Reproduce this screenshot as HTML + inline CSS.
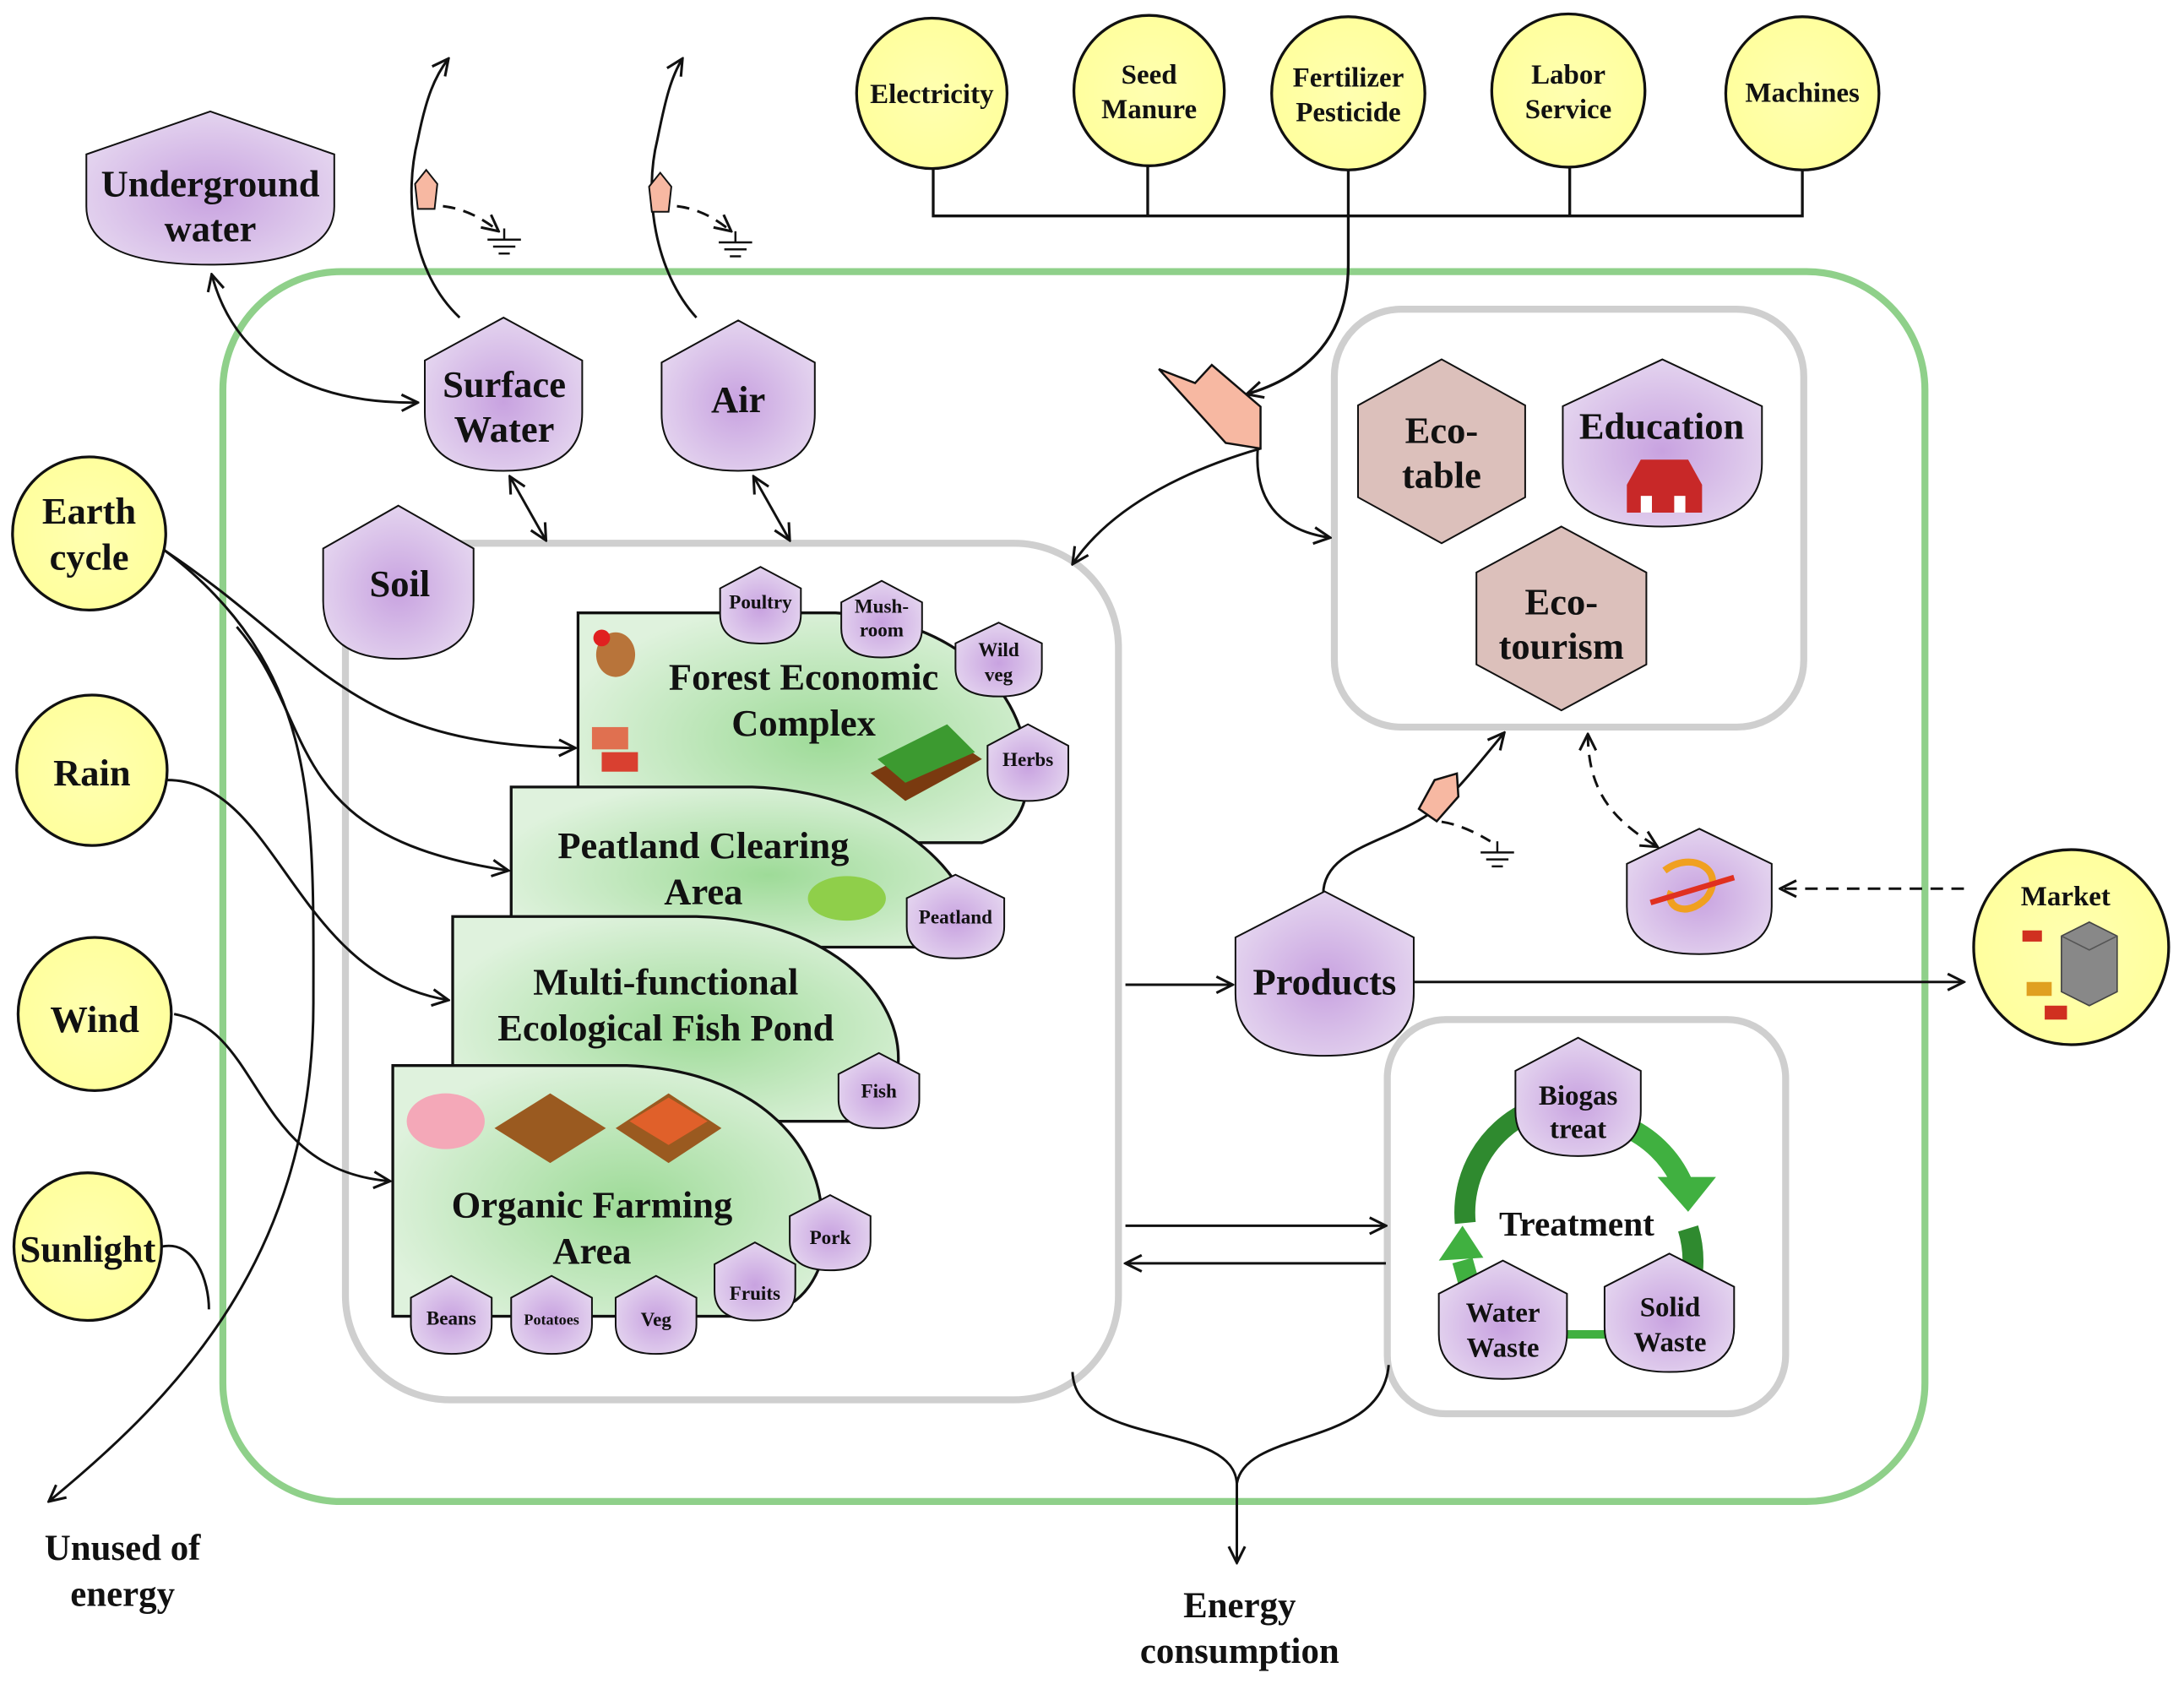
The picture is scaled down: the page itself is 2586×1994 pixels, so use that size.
<!DOCTYPE html>
<html><head><meta charset="utf-8"><style>
html,body{margin:0;padding:0;background:#fff;}
svg{display:block;}
text{font-family:"Liberation Serif",serif;font-weight:bold;fill:#111;text-anchor:middle;}
</style></head><body>
<svg width="2586" height="1994" viewBox="0 0 1568 1209" xmlns="http://www.w3.org/2000/svg">
<defs>
<radialGradient id="pg" cx="50%" cy="55%" r="60%"><stop offset="0" stop-color="#c8a2e0"/><stop offset="1" stop-color="#e6d8f0"/></radialGradient>
<radialGradient id="gg" cx="55%" cy="55%" r="60%"><stop offset="0" stop-color="#9edb98"/><stop offset="1" stop-color="#dff2dd"/></radialGradient>
<radialGradient id="yg" cx="50%" cy="50%" r="55%"><stop offset="0" stop-color="#ffffb0"/><stop offset="1" stop-color="#ffff9c"/></radialGradient>
<path id="pb" d="M50,0 L100,28 L100,62 Q100,100 50,100 Q0,100 0,62 L0,28 Z" fill="url(#pg)" stroke="#111" stroke-width="2" vector-effect="non-scaling-stroke"/>
<path id="hx" d="M50,0 L100,25 L100,75 L50,100 L0,75 L0,25 Z" fill="#dcc0bb" stroke="#111" stroke-width="2" vector-effect="non-scaling-stroke"/>
<marker id="ar" viewBox="0 0 12 12" refX="11" refY="6" markerWidth="14" markerHeight="14" markerUnits="userSpaceOnUse" orient="auto-start-reverse"><path d="M1,1 L11,6 L1,11" fill="none" stroke="#111" stroke-width="1.6"/></marker>
<g id="gnd"><line x1="0" y1="-8" x2="0" y2="0" stroke="#111" stroke-width="1.5"/><line x1="-12" y1="0" x2="12" y2="0" stroke="#111" stroke-width="1.5"/><line x1="-8" y1="5" x2="8" y2="5" stroke="#111" stroke-width="1.5"/><line x1="-4" y1="10" x2="4" y2="10" stroke="#111" stroke-width="1.5"/></g>
<path id="flag" d="M0,0 L8,-10 L16,0 L14,18 L2,18 Z" fill="#f7b8a2" stroke="#111" stroke-width="1.2"/>
</defs>

<rect x="160" y="195" width="1222" height="883" rx="85" fill="none" stroke="#8fd08a" stroke-width="5"/>
<rect x="248" y="390" width="555" height="615" rx="75" fill="none" stroke="#cfcfcf" stroke-width="5"/>
<rect x="958" y="222" width="337" height="300" rx="48" fill="none" stroke="#cfcfcf" stroke-width="5"/>
<rect x="996" y="732" width="286" height="283" rx="42" fill="none" stroke="#cfcfcf" stroke-width="5"/>

<g stroke="#111" stroke-width="2" fill="none">
<path d="M670,121 V155 H1294 V121 M824,119 V155 M1127,119 V155"/>
<path d="M968,122 V190 C968,240 940,270 895,283" marker-end="url(#ar)"/>
</g>

<g fill="url(#yg)" stroke="#111" stroke-width="2">
<circle cx="669" cy="67" r="54"/><circle cx="825" cy="65" r="54"/><circle cx="968" cy="67" r="55"/><circle cx="1126" cy="65" r="55"/><circle cx="1294" cy="67" r="55"/>
<circle cx="64" cy="383" r="55"/><circle cx="66" cy="553" r="54"/><circle cx="68" cy="728" r="55"/><circle cx="63" cy="895" r="53"/><circle cx="1487" cy="680" r="70"/>
</g>
<g font-size="20">
<text x="669" y="74">Electricity</text>
<text x="825" y="60">Seed</text><text x="825" y="85">Manure</text>
<text x="968" y="62">Fertilizer</text><text x="968" y="87">Pesticide</text>
<text x="1126" y="60">Labor</text><text x="1126" y="85">Service</text>
<text x="1294" y="73">Machines</text>
<text x="1483" y="650">Market</text>
</g>
<g font-size="27">
<text x="64" y="376">Earth</text><text x="64" y="409">cycle</text>
<text x="66" y="564">Rain</text>
<text x="68" y="741">Wind</text>
<text x="63" y="906">Sunlight</text>
</g>
<path d="M1480,672 L1500,662 L1520,672 L1520,712 L1500,722 L1480,712 Z" fill="#888" stroke="#444"/>
<path d="M1480,672 L1500,682 L1520,672" fill="none" stroke="#555"/>
<rect x="1455" y="705" width="18" height="10" fill="#e0a020"/><rect x="1468" y="722" width="16" height="10" fill="#d03020"/><rect x="1452" y="668" width="14" height="8" fill="#d03020"/>

<g stroke="#111" stroke-width="1.8" fill="none">
<path d="M118,395 C230,470 250,535 413,537" marker-end="url(#ar)"/>
<path d="M170,450 C230,520 200,600 365,625" marker-end="url(#ar)"/>
<path d="M120,560 C200,560 210,700 322,718" marker-end="url(#ar)"/>
<path d="M125,728 C190,740 180,840 280,848" marker-end="url(#ar)"/>
<path d="M118,395 C230,480 225,580 225,720 C225,900 130,1000 35,1078" marker-end="url(#ar)"/>
<path d="M116,895 C140,890 150,920 150,940"/>
</g>
<text x="88" y="1120" font-size="26">Unused of</text><text x="88" y="1153" font-size="26">energy</text>
<text x="890" y="1161" font-size="26">Energy</text><text x="890" y="1194" font-size="26">consumption</text>

<g stroke="#111" stroke-width="1.8" fill="none">
<path d="M152,197 C170,265 230,290 300,289" marker-start="url(#ar)" marker-end="url(#ar)"/>
<path d="M330,228 C295,195 290,140 300,100 C306,70 312,55 322,42" marker-end="url(#ar)"/>
<path d="M500,228 C470,195 462,140 472,100 C478,70 482,55 490,42" marker-end="url(#ar)"/>
<path d="M366,342 L392,388" marker-start="url(#ar)" marker-end="url(#ar)"/>
<path d="M541,342 L567,388" marker-start="url(#ar)" marker-end="url(#ar)"/>
<path d="M905,322 C860,335 800,360 770,405" marker-end="url(#ar)"/>
<path d="M903,322 C900,365 925,382 955,386" marker-end="url(#ar)"/>
<path d="M808,707 H885" marker-end="url(#ar)"/>
<path d="M1015,705 H1410" marker-end="url(#ar)"/>
<path d="M808,880 H995" marker-end="url(#ar)"/>
<path d="M995,907 H808" marker-end="url(#ar)"/>
<path d="M770,985 C772,1040 885,1020 888,1065 V1122" marker-end="url(#ar)"/>
<path d="M997,980 C992,1040 895,1025 888,1065"/>
<path d="M950,642 C950,610 995,605 1025,585 C1045,570 1060,550 1080,526" marker-end="url(#ar)"/>
</g>
<g stroke="#111" stroke-width="1.8" fill="none" stroke-dasharray="9,6">
<path d="M318,148 C335,150 348,158 358,166" marker-end="url(#ar)"/>
<path d="M486,148 C503,150 515,158 525,166" marker-end="url(#ar)"/>
<path d="M1035,590 C1048,592 1060,598 1070,604"/>
<path d="M1140,527 C1140,570 1160,590 1190,608" marker-start="url(#ar)" marker-end="url(#ar)"/>
<path d="M1410,638 H1278" marker-end="url(#ar)"/>
</g>
<use href="#gnd" x="362" y="172"/><use href="#gnd" x="528" y="174"/><use href="#gnd" x="1075" y="612"/>
<use href="#flag" transform="translate(298,132)"/>
<use href="#flag" transform="translate(466,134)"/>
<use href="#flag" transform="translate(1030,560) rotate(35) scale(1.3)"/>
<path d="M832,265 L858,275 L870,262 L905,292 L905,322 L880,318 Z" fill="#f7b8a2" stroke="#111" stroke-width="1.5"/>

<g stroke="#111" stroke-width="2" fill="url(#gg)">
<path d="M415,440 H600 C690,445 740,500 738,560 C736,590 720,600 705,605 L415,605 Z"/>
<path d="M367,565 H540 C630,568 700,620 702,680 L367,680 Z"/>
<path d="M325,658 H500 C590,660 645,710 645,760 C645,790 630,800 610,805 L325,805 Z"/>
<path d="M282,765 H450 C540,768 590,820 590,875 L590,905 C580,935 560,945 530,945 L282,945 Z"/>
</g>
<g font-size="27">
<text x="577" y="495">Forest Economic</text><text x="577" y="528">Complex</text>
<text x="505" y="616">Peatland Clearing</text><text x="505" y="649">Area</text>
<text x="478" y="714">Multi-functional</text><text x="478" y="747">Ecological Fish Pond</text>
<text x="425" y="874">Organic Farming</text><text x="425" y="907">Area</text>
</g>
<ellipse cx="442" cy="470" rx="14" ry="16" fill="#b8743a"/><circle cx="432" cy="458" r="6" fill="#e02020"/>
<rect x="425" y="522" width="26" height="16" fill="#e07050"/><rect x="432" y="540" width="26" height="14" fill="#d94030"/>
<path d="M625,555 L680,528 L705,545 L650,575 Z" fill="#7a3a10"/><path d="M630,545 L680,520 L700,540 L650,562 Z" fill="#3c9a30"/>
<ellipse cx="608" cy="645" rx="28" ry="16" fill="#8fcf4a"/>
<ellipse cx="320" cy="805" rx="28" ry="20" fill="#f4a8b8"/>
<path d="M355,810 L395,785 L435,810 L395,835 Z" fill="#9a5a20"/><path d="M442,810 L480,785 L518,810 L480,835 Z" fill="#9a5a20"/>
<path d="M452,805 L480,788 L508,805 L480,822 Z" fill="#e0602a"/>

<use href="#pb" transform="translate(62,80) scale(1.78,1.10)"/>
<use href="#pb" transform="translate(305,228) scale(1.13,1.10)"/>
<use href="#pb" transform="translate(475,230) scale(1.10,1.08)"/>
<use href="#pb" transform="translate(232,363) scale(1.08,1.10)"/>
<use href="#pb" transform="translate(887,640) scale(1.28,1.18)"/>
<use href="#pb" transform="translate(1122,258) scale(1.43,1.20)"/>
<use href="#pb" transform="translate(1168,595) scale(1.04,0.90)"/>
<use href="#hx" transform="translate(975,258) scale(1.20,1.32)"/>
<use href="#hx" transform="translate(1060,378) scale(1.22,1.32)"/>
<path d="M1168,348 L1178,330 L1212,330 L1222,348 L1222,368 L1168,368 Z" fill="#c82828"/><rect x="1178" y="356" width="8" height="12" fill="#fff"/><rect x="1202" y="356" width="8" height="12" fill="#fff"/>
<path d="M1195,625 C1215,610 1240,625 1225,645 C1210,660 1195,650 1200,640" fill="none" stroke="#f0a020" stroke-width="5"/>
<path d="M1185,648 L1245,630" stroke="#e03020" stroke-width="4"/>

<g fill="none" stroke-width="15">
<path d="M1052,878 A80,80 0 0 1 1098,798" stroke="#2f8a2f"/>
<path d="M1165,808 A80,80 0 0 1 1208,850" stroke="#40b040"/>
<path d="M1212,882 A80,80 0 0 1 1205,945" stroke="#2f8a2f"/>
<path d="M1125,958 H1155" stroke="#40b040" stroke-width="6"/>
<path d="M1057,930 L1050,905" stroke="#40b040"/>
</g>
<path d="M1190,845 L1232,845 L1212,870 Z" fill="#40b040"/>
<path d="M1033,905 L1050,880 L1065,903 Z" fill="#40b040"/>
<text x="1132" y="887" font-size="25">Treatment</text>
<use href="#pb" transform="translate(1088,745) scale(0.90,0.85)"/>
<use href="#pb" transform="translate(1033,905) scale(0.92,0.85)"/>
<use href="#pb" transform="translate(1152,900) scale(0.93,0.85)"/>

<use href="#pb" transform="translate(517,407) scale(0.58,0.55)"/>
<use href="#pb" transform="translate(604,417) scale(0.58,0.55)"/>
<use href="#pb" transform="translate(686,447) scale(0.62,0.53)"/>
<use href="#pb" transform="translate(709,520) scale(0.58,0.55)"/>
<use href="#pb" transform="translate(651,628) scale(0.70,0.60)"/>
<use href="#pb" transform="translate(602,756) scale(0.58,0.54)"/>
<use href="#pb" transform="translate(567,858) scale(0.58,0.54)"/>
<use href="#pb" transform="translate(513,892) scale(0.58,0.56)"/>
<use href="#pb" transform="translate(442,916) scale(0.58,0.56)"/>
<use href="#pb" transform="translate(367,916) scale(0.58,0.56)"/>
<use href="#pb" transform="translate(295,916) scale(0.58,0.56)"/>

<g font-size="27">
<text x="151" y="141">Underground</text><text x="151" y="173">water</text>
<text x="362" y="285">Surface</text><text x="362" y="317">Water</text>
<text x="530" y="296">Air</text>
<text x="287" y="428">Soil</text>
<text x="951" y="714">Products</text>
<text x="1035" y="318">Eco-</text><text x="1035" y="350">table</text>
<text x="1193" y="315">Education</text>
<text x="1121" y="441">Eco-</text><text x="1121" y="473">tourism</text>
</g>
<g font-size="20">
<text x="1133" y="793">Biogas</text><text x="1133" y="817">treat</text>
<text x="1079" y="949">Water</text><text x="1079" y="974">Waste</text>
<text x="1199" y="945">Solid</text><text x="1199" y="970">Waste</text>
</g>
<g font-size="14">
<text x="546" y="437">Poultry</text>
<text x="633" y="440">Mush-</text><text x="633" y="457">room</text>
<text x="717" y="471">Wild</text><text x="717" y="489">veg</text>
<text x="738" y="550">Herbs</text>
<text x="686" y="663">Peatland</text>
<text x="631" y="788">Fish</text>
<text x="596" y="893">Pork</text>
<text x="542" y="933">Fruits</text>
<text x="471" y="952">Veg</text>
<text x="396" y="951" font-size="11">Potatoes</text>
<text x="324" y="951">Beans</text>
</g>
</svg>
</body></html>
